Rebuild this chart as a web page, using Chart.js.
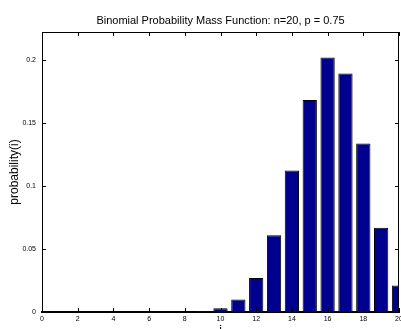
<!DOCTYPE html>
<html>
<head>
<meta charset="utf-8">
<script src="https://cdn.jsdelivr.net/npm/chart.js@4/dist/chart.umd.min.js"></script>
<style>
  html, body { margin: 0; padding: 0; background: #fff; overflow: hidden; }
  #wrap { width: 401px; height: 329px; overflow: hidden; }
  canvas { display: block; }
</style>
</head>
<body>
<div id="wrap"><canvas id="pmf" width="441" height="345"></canvas></div>
<script>
// bar positions (matlab 1-based index) and probabilities
const positions = [1, 2, 3, 4, 5, 6, 7, 8, 9, 10, 11, 12, 13, 14, 15, 16, 17, 18, 19, 20];
const probabilities = [0, 0, 0, 0, 0, 0, 0.00003, 0.00015, 0.00075, 0.003, 0.0099, 0.027,
                       0.061, 0.1124, 0.1686, 0.2023, 0.1897, 0.1339, 0.0669, 0.0211];
const xTicks = [0, 2, 4, 6, 8, 10, 12, 14, 16, 18, 20];
const yTicks = [0, 0.05, 0.1, 0.15, 0.2];
const yTickLabels = ['0', '0.05', '0.1', '0.15', '0.2'];
const yMax = 0.2226;

const FONT = "'Liberation Sans', Arial, Helvetica, sans-serif";

// matlab style: full box, ticks pointing inwards on all four sides
const matlabBox = {
  id: 'matlabBox',
  afterDatasetsDraw(chart) {
    const { ctx, chartArea: a, scales: { x, y } } = chart;
    const len = 4;
    ctx.save();
    ctx.strokeStyle = '#000';
    ctx.lineWidth = 1;
    ctx.beginPath();
    ctx.moveTo(a.left, a.top + 0.5);
    ctx.lineTo(a.right, a.top + 0.5);
    ctx.moveTo(a.right - 0.5, a.top);
    ctx.lineTo(a.right - 0.5, a.bottom);
    x.ticks.forEach(t => {
      const px = Math.round(x.getPixelForValue(t.value)) + 0.5;
      ctx.moveTo(px, a.bottom);
      ctx.lineTo(px, a.bottom - len);
      ctx.moveTo(px, a.top);
      ctx.lineTo(px, a.top + len);
    });
    y.ticks.forEach(t => {
      const py = Math.round(y.getPixelForValue(t.value)) + 0.5;
      ctx.moveTo(a.left, py);
      ctx.lineTo(a.left + len, py);
      ctx.moveTo(a.right, py);
      ctx.lineTo(a.right - len, py);
    });
    ctx.stroke();
    ctx.restore();
  }
};

new Chart(document.getElementById('pmf').getContext('2d'), {
  type: 'bar',
  data: {
    datasets: [{
      data: positions.map((p, i) => ({ x: p, y: probabilities[i] })),
      backgroundColor: '#00008F',
      borderColor: '#000000',
      borderWidth: 1,
      barPercentage: 0.8,
      categoryPercentage: 1,
      clip: 0
    }]
  },
  options: {
    responsive: false,
    animation: false,
    devicePixelRatio: 1,
    layout: { padding: 0 },
    plugins: {
      legend: { display: false },
      tooltip: { enabled: false },
      title: {
        display: true,
        text: 'Binomial Probability Mass Function: n=20, p = 0.75',
        color: '#000',
        font: { family: FONT, size: 11, weight: 'normal' },
        padding: { top: 14, bottom: 4.8 }
      }
    },
    scales: {
      x: {
        type: 'linear',
        min: 0,
        max: 20,
        offset: false,
        grid: { display: false, drawTicks: false, offset: false },
        border: { display: true, color: '#000', width: 2 },
        ticks: {
          stepSize: 2,
          padding: 3,
          color: '#000',
          maxRotation: 0,
          autoSkip: false,
          font: { family: FONT, size: 7 },
          callback: v => (xTicks.includes(v) ? String(v) : '')
        },
        title: {
          display: true,
          text: 'i',
          color: '#000',
          font: { family: FONT, size: 12 },
          padding: { top: 0, bottom: 7 }
        },
        afterFit: s => { s.height = 33; }
      },
      y: {
        min: 0,
        max: yMax,
        grid: { display: false, drawTicks: false },
        border: { display: true, color: '#000', width: 1 },
        ticks: {
          stepSize: 0.05,
          includeBounds: false,
          padding: 6,
          color: '#000',
          font: { family: FONT, size: 7 },
          callback: v => {
            const k = yTicks.findIndex(t => Math.abs(t - v) < 1e-9);
            return k >= 0 ? yTickLabels[k] : '';
          }
        },
        title: {
          display: true,
          text: 'probability(i)',
          color: '#000',
          font: { family: FONT, size: 12 },
          padding: { top: 7, bottom: 0 }
        },
        afterFit: s => { s.width = 42; }
      },
      // empty right-hand box so the plot area stays centred under the title
      yRight: {
        position: 'right',
        display: true,
        min: 0,
        max: yMax,
        grid: { display: false, drawTicks: false },
        border: { display: false },
        ticks: { display: false },
        afterFit: s => { s.width = 42; }
      }
    }
  },
  plugins: [matlabBox]
});
</script>
</body>
</html>
